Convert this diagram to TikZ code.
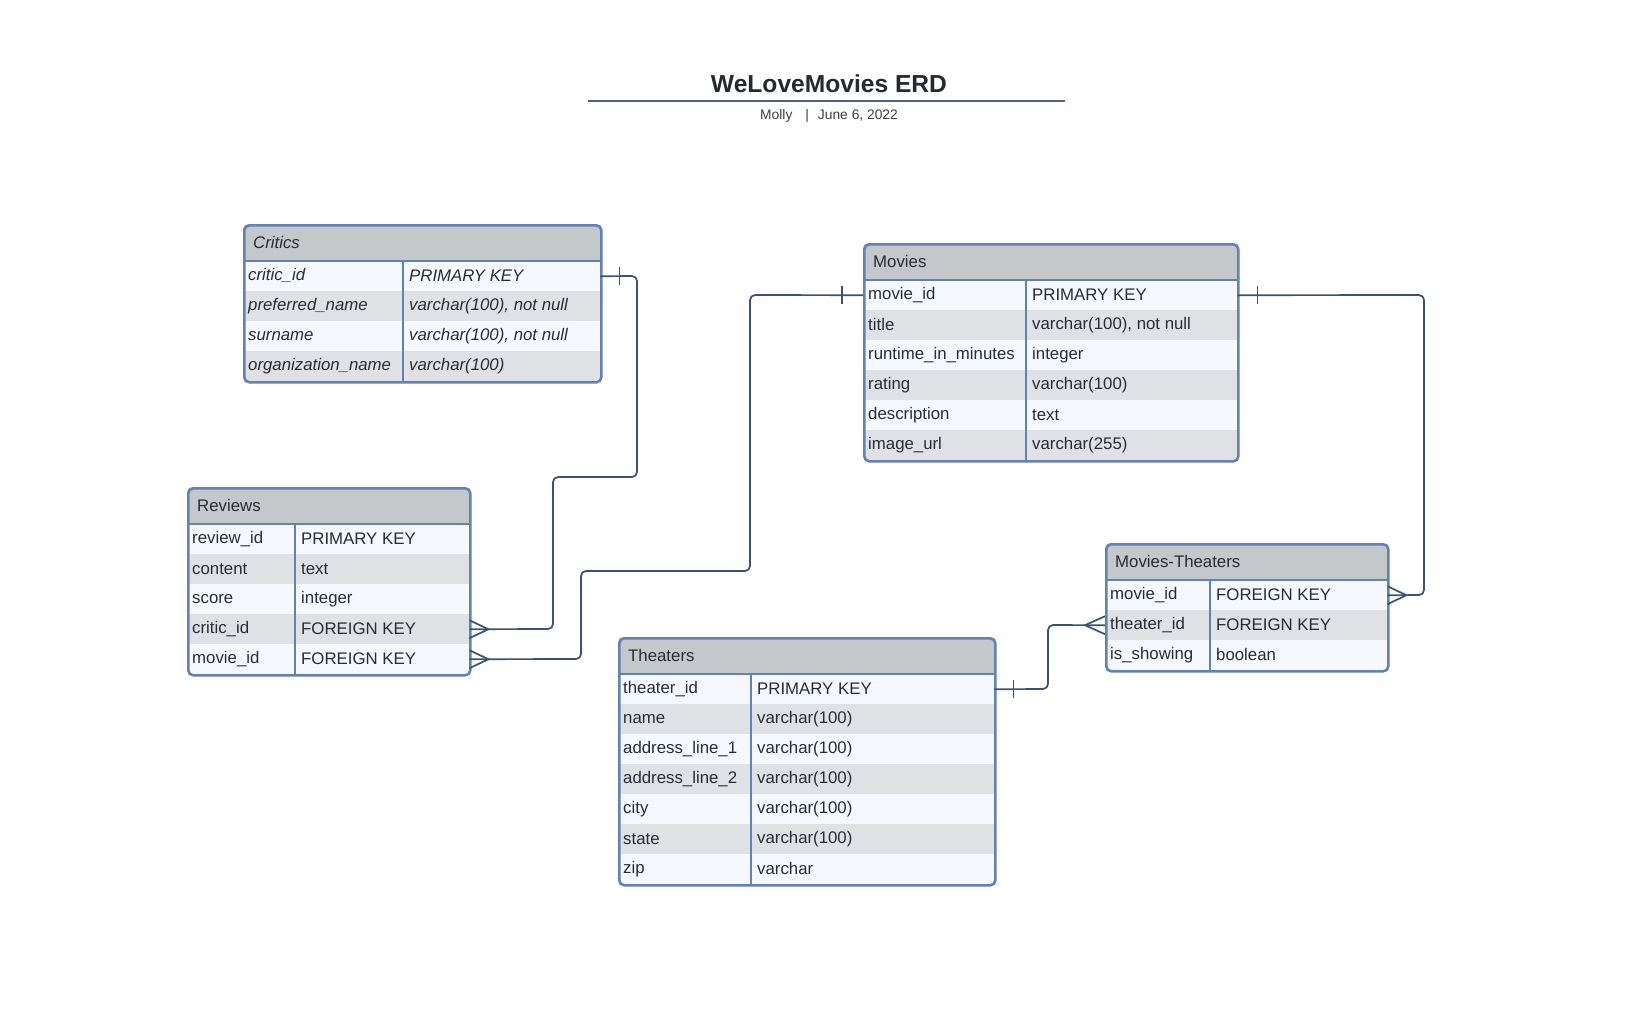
\documentclass[tikz,border=0pt]{standalone}
\usepackage{fontspec}
\setmainfont{Liberation Sans}
\definecolor{bordc}{HTML}{6282B3}
\definecolor{hdrc}{HTML}{C5C8CB}
\definecolor{rowa}{HTML}{F5F9FF}
\definecolor{rowb}{HTML}{DFE1E5}
\definecolor{txtc}{HTML}{282C33}
\definecolor{connc}{HTML}{3A5276}
\definecolor{titlec}{HTML}{262A30}
\tikzset{
  erdline/.style={draw=bordc, line width=2.6pt},
  frame/.style={draw=bordc, line width=2.6pt, rounded corners=5pt, anchor=north west, inner sep=0pt, fill=none},
  conn/.style={draw=connc, line width=1.7pt, rounded corners=5pt},
  cfoot/.style={draw=connc, line width=1.7pt},
  celltxt/.style={anchor=west, inner sep=0pt, font=\fontsize{16.8}{20}\selectfont\tfont, text=txtc},
  rowcell/.style={anchor=north west, inner sep=0pt, minimum height=30pt, draw=none},
}
\newcommand\tfont{}
\newcommand\settab[5]{\def\tx{#1}\def\ty{#2}\def\tw{#3}\def\tc{#4}\def\tn{#5}%
  \pgfmathsetmacro\th{37+30*#5}}
\newcommand\erdbg[2]{%
  \clip[rounded corners=5pt] (\tx,\ty) rectangle ++(\tw,\th);
  \fill[hdrc] (\tx,\ty) rectangle ++(\tw,37);
  \node[celltxt] (#1-h) at (\tx+10,\ty+18) {#2};
}
\newcommand\erdrow[4]{%
  \pgfmathsetmacro\ry{\ty+37+30*#2}%
  \pgfmathparse{int(mod(#2,2))}%
  \ifnum\pgfmathresult=0 \def\rf{rowa}\else\def\rf{rowb}\fi
  \node[rowcell, fill=\rf, minimum width=\tw pt] (#1) at (\tx,\ry) {};
  \node[celltxt] (#1-k) at ([xshift=5pt,yshift=0.5pt]#1.west) {#3};
  \pgfmathsetmacro\cx{\tc+6}%
  \node[celltxt] (#1-t) at ([xshift=\cx pt,yshift=0.5pt]#1.west) {#4};
}
\newcommand\erdframe[1]{%
  \draw[erdline] (\tx,\ty+37) -- (\tx+\tw,\ty+37);
  \draw[erdline] (\tx+\tc,\ty+37) -- (\tx+\tc,\ty+\th);
  \node[frame, minimum width=\tw pt, minimum height=\th pt] (#1) at (\tx,\ty) {};
}
\begin{document}
\begin{tikzpicture}[x=1pt,y=-1pt]
\useasboundingbox (0,0) rectangle (1629,1013);
\fill[white] (0,0) rectangle (1629,1013);

% title
\node[font=\fontsize{24.6}{29}\selectfont\bfseries, text=titlec, inner sep=0pt] (title) at (829,83.5) {WeLoveMovies ERD};
\coordinate (tl) at (588,101);
\coordinate (tr) at (1065,101);
\draw[draw=connc!90, line width=2pt] (tl) -- (tr);
\node[font=\fontsize{13.8}{16}\selectfont, text=titlec!90, inner sep=0pt] (sub) at (829,115.5) {Molly\hspace{13pt}|\hspace{9pt}June 6, 2022};

% Critics
\settab{243}{224}{357}{160}{4}
\begin{scope}
\renewcommand\tfont{\itshape}
\erdbg{crit}{Critics}
\erdrow{crit0}{0}{critic\_id}{PRIMARY KEY}
\erdrow{crit1}{1}{preferred\_name}{varchar(100), not null}
\erdrow{crit2}{2}{surname}{varchar(100), not null}
\erdrow{crit3}{3}{organization\_name}{varchar(100)}
\end{scope}
\erdframe{crit}

% Reviews
\settab{187}{487}{282}{108}{5}
\begin{scope}
\erdbg{rev}{Reviews}
\erdrow{rev0}{0}{review\_id}{PRIMARY KEY}
\erdrow{rev1}{1}{content}{text}
\erdrow{rev2}{2}{score}{integer}
\erdrow{rev3}{3}{critic\_id}{FOREIGN KEY}
\erdrow{rev4}{4}{movie\_id}{FOREIGN KEY}
\end{scope}
\erdframe{rev}

% Movies
\settab{863}{243}{374}{163}{6}
\begin{scope}
\erdbg{mov}{Movies}
\erdrow{mov0}{0}{movie\_id}{PRIMARY KEY}
\erdrow{mov1}{1}{title}{varchar(100), not null}
\erdrow{mov2}{2}{runtime\_in\_minutes}{integer}
\erdrow{mov3}{3}{rating}{varchar(100)}
\erdrow{mov4}{4}{description}{text}
\erdrow{mov5}{5}{image\_url}{varchar(255)}
\end{scope}
\erdframe{mov}

% Movies-Theaters
\settab{1105}{543}{282}{105}{3}
\begin{scope}
\erdbg{mt}{Movies-Theaters}
\erdrow{mt0}{0}{movie\_id}{FOREIGN KEY}
\erdrow{mt1}{1}{theater\_id}{FOREIGN KEY}
\erdrow{mt2}{2}{is\_showing}{boolean}
\end{scope}
\erdframe{mt}

% Theaters
\settab{618}{637}{376}{133}{7}
\begin{scope}
\erdbg{th}{Theaters}
\erdrow{th0}{0}{theater\_id}{PRIMARY KEY}
\erdrow{th1}{1}{name}{varchar(100)}
\erdrow{th2}{2}{address\_line\_1}{varchar(100)}
\erdrow{th3}{3}{address\_line\_2}{varchar(100)}
\erdrow{th4}{4}{city}{varchar(100)}
\erdrow{th5}{5}{state}{varchar(100)}
\erdrow{th6}{6}{zip}{varchar}
\end{scope}
\erdframe{th}

% connectors
% Critics -> Reviews
\draw[conn] (crit0.east) -- (637,276) -- (637,477) -- (553,477) -- (553,629) -- (rev3.east);
\draw[cfoot] ([xshift=19pt,yshift=9pt]crit0.east) -- ([xshift=19pt,yshift=-9pt]crit0.east);
\draw[cfoot] ([yshift=9pt]rev3.east) -- ([xshift=19pt]rev3.east) -- ([yshift=-9pt]rev3.east);

% Movies -> Reviews
\draw[conn] (rev4.east) -- (581,659) -- (581,571) -- (750,571) -- (750,295) -- (mov0.west);
\draw[cfoot] ([yshift=9pt]rev4.east) -- ([xshift=19pt]rev4.east) -- ([yshift=-9pt]rev4.east);
\draw[cfoot] ([xshift=-21pt,yshift=9pt]mov0.west) -- ([xshift=-21pt,yshift=-9pt]mov0.west);

% Movies -> Movies-Theaters
\draw[conn] (mov0.east) -- (1424,295) -- (1424,595) -- (mt0.east);
\draw[cfoot] ([xshift=20pt,yshift=9pt]mov0.east) -- ([xshift=20pt,yshift=-9pt]mov0.east);
\draw[cfoot] ([yshift=9pt]mt0.east) -- ([xshift=19pt]mt0.east) -- ([yshift=-9pt]mt0.east);

% Theaters -> Movies-Theaters
\draw[conn] (th0.east) -- (1048,689) -- (1048,625) -- (mt1.west);
\draw[cfoot] ([xshift=19pt,yshift=9pt]th0.east) -- ([xshift=19pt,yshift=-9pt]th0.east);
\draw[cfoot] ([yshift=9pt]mt1.west) -- ([xshift=-20pt]mt1.west) -- ([yshift=-9pt]mt1.west);
\end{tikzpicture}
\end{document}
